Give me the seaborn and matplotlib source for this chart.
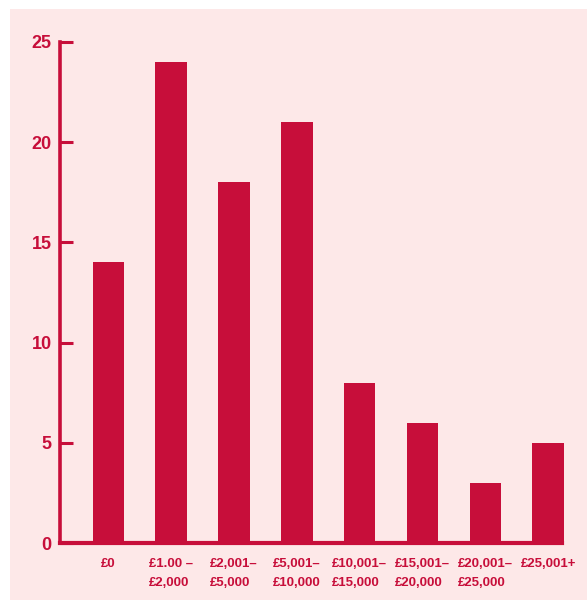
import matplotlib
matplotlib.use("Agg")
import matplotlib.pyplot as plt
import seaborn as sns
import pandas as pd

categories = ["£0", "£1.00 –\n£2,000", "£2,001–\n£5,000", "£5,001–\n£10,000",
              "£10,001–\n£15,000", "£15,001–\n£20,000", "£20,001–\n£25,000", "£25,001+"]
values = [14, 24, 18, 21, 8, 6, 3, 5]
y_ticks = [0, 5, 10, 15, 20, 25]

RED = "#C70E3A"
PINK = "#FDE8E8"

sns.set_theme(style="white")
plt.rcParams["font.family"] = ["Liberation Sans", "DejaVu Sans"]

W, H = 587, 600
fig = plt.figure(figsize=(W / 100, H / 100), dpi=100)
fig.patch.set_facecolor("white")
# pink panel behind the chart
fig.patches.append(plt.Rectangle((10 / W, 0), 1 - 10 / W, 1 - 9 / H,
                                 transform=fig.transFigure, facecolor=PINK,
                                 edgecolor="none", zorder=-10))

ax = fig.add_axes([60 / W, 1 - 543 / H, (562 - 60) / W, (543 - 42) / H])
ax.set_zorder(5)
ax.set_facecolor("none")

df = pd.DataFrame({"band": categories, "count": values})
sns.barplot(data=df, x="band", y="count", color=RED, width=0.5,
            saturation=1, ax=ax, zorder=3)
for p in ax.patches:
    p.set_edgecolor("none")
    p.set_clip_on(False)

ax.set_xlim(-0.77, 7.22)
ax.set_ylim(0, 25)
ax.set_yticks(y_ticks)
ax.set_xlabel("")
ax.set_ylabel("")

for side in ["top", "right"]:
    ax.spines[side].set_visible(False)
ax.spines["left"].set_color(RED)
ax.spines["left"].set_linewidth(2.6)
ax.spines["bottom"].set_color(RED)
ax.spines["bottom"].set_linewidth(3.0)
ax.spines["bottom"].set_zorder(4)

ax.tick_params(axis="y", direction="in", length=9, width=2.2, color=RED,
               labelcolor=RED, labelsize=13, pad=6, left=True)
for lab in ax.get_yticklabels():
    lab.set_fontweight("bold")

ax.set_xticks(range(len(categories)), categories, fontweight="bold",
              multialignment="left", linespacing=1.8)
ax.tick_params(axis="x", bottom=False, labelcolor=RED, labelsize=9.5, pad=5)

fig.savefig("out.png", dpi=100, facecolor=fig.get_facecolor())
